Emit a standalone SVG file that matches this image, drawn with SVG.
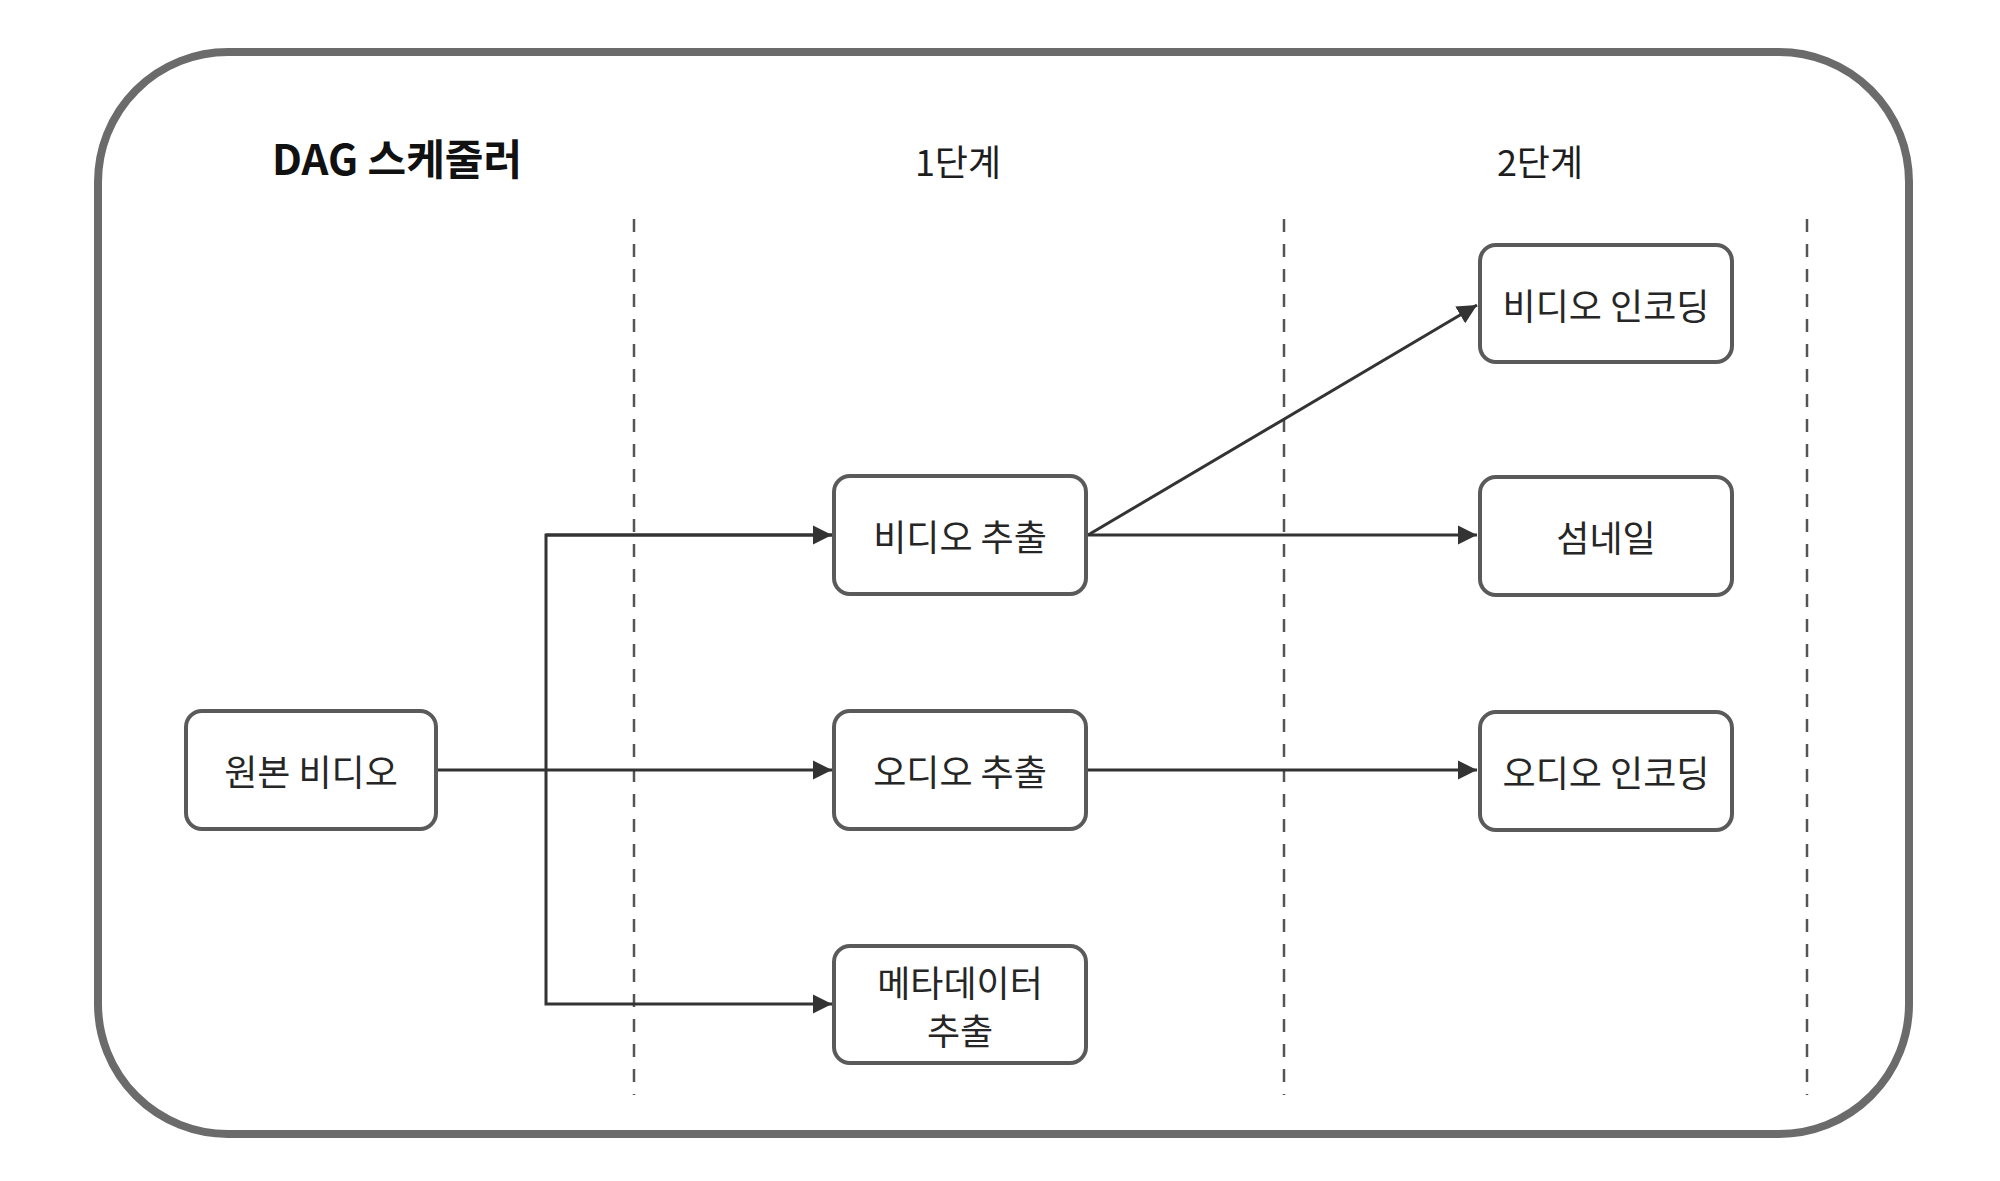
<svg xmlns="http://www.w3.org/2000/svg" width="2000" height="1181" viewBox="0 0 2000 1181">
  <style>
    .frame { fill: #ffffff; stroke: #6b6b6b; stroke-width: 8; }
    .box { fill: #ffffff; stroke: #5a5a5a; stroke-width: 4; }
    .lbl { font-family: "Noto Sans CJK KR", "Noto Sans", sans-serif; font-size: 36px; fill: #262626; text-anchor: middle; dominant-baseline: central; }
    .hdr { font-family: "Noto Sans CJK KR", "Noto Sans", sans-serif; font-size: 36px; fill: #1e1e1e; text-anchor: middle; }
    .title { font-family: "Noto Sans CJK KR", "Noto Sans", sans-serif; font-size: 42px; font-weight: bold; fill: #111111; }
    .dash { stroke: #555555; stroke-width: 2.5; stroke-dasharray: 13 12; fill: none; }
    .edge { stroke: #333333; stroke-width: 3; fill: none; }
  </style>
  <defs>
    <marker id="arrow" viewBox="0 0 10 10" refX="10" refY="5" markerWidth="6.5" markerHeight="6.5" markerUnits="strokeWidth" orient="auto">
      <path d="M0,0 L10,5 L0,10 Z" fill="#333333"/>
    </marker>
  </defs>
  <rect width="2000" height="1181" fill="#ffffff"/>
  <rect class="frame" x="98" y="52" width="1811" height="1082" rx="130" ry="130"/>

  <text class="title" x="272" y="175">DAG 스케줄러</text>
  <text class="hdr" x="958" y="176">1단계</text>
  <text class="hdr" x="1540" y="176">2단계</text>

  <g id="dividers">
    <line class="dash" x1="634" y1="219" x2="634" y2="1095"/>
    <line class="dash" x1="1284" y1="219" x2="1284" y2="1095"/>
    <line class="dash" x1="1807" y1="219" x2="1807" y2="1095"/>
  </g>

  <g id="connectors">
    <line class="edge" x1="436" y1="770" x2="832" y2="770" marker-end="url(#arrow)"/>
    <polyline class="edge" points="832,535 546,535 546,1004 832,1004" marker-end="url(#arrow)"/>
    <line class="edge" x1="546" y1="535" x2="832" y2="535" marker-end="url(#arrow)"/>
    <line class="edge" x1="1088" y1="535" x2="1477" y2="535" marker-end="url(#arrow)"/>
    <line class="edge" x1="1088" y1="535" x2="1477" y2="305" marker-end="url(#arrow)"/>
    <line class="edge" x1="1086" y1="770" x2="1477" y2="770" marker-end="url(#arrow)"/>
  </g>

  <g id="n-source">
    <rect class="box" x="186" y="711" width="250" height="118" rx="16"/>
    <text class="lbl" x="311" y="770">원본 비디오</text>
  </g>
  <g id="n-video-extract">
    <rect class="box" x="834" y="476" width="252" height="118" rx="16"/>
    <text class="lbl" x="960" y="535">비디오 추출</text>
  </g>
  <g id="n-audio-extract">
    <rect class="box" x="834" y="711" width="252" height="118" rx="16"/>
    <text class="lbl" x="960" y="770">오디오 추출</text>
  </g>
  <g id="n-meta-extract">
    <rect class="box" x="834" y="946" width="252" height="117" rx="16"/>
    <text class="lbl" x="960" y="981">메타데이터</text>
    <text class="lbl" x="960" y="1029">추출</text>
  </g>
  <g id="n-video-encode">
    <rect class="box" x="1480" y="245" width="252" height="117" rx="16"/>
    <text class="lbl" x="1606" y="304">비디오 인코딩</text>
  </g>
  <g id="n-thumbnail">
    <rect class="box" x="1480" y="477" width="252" height="118" rx="16"/>
    <text class="lbl" x="1606" y="536">섬네일</text>
  </g>
  <g id="n-audio-encode">
    <rect class="box" x="1480" y="712" width="252" height="118" rx="16"/>
    <text class="lbl" x="1606" y="771">오디오 인코딩</text>
  </g>
</svg>
